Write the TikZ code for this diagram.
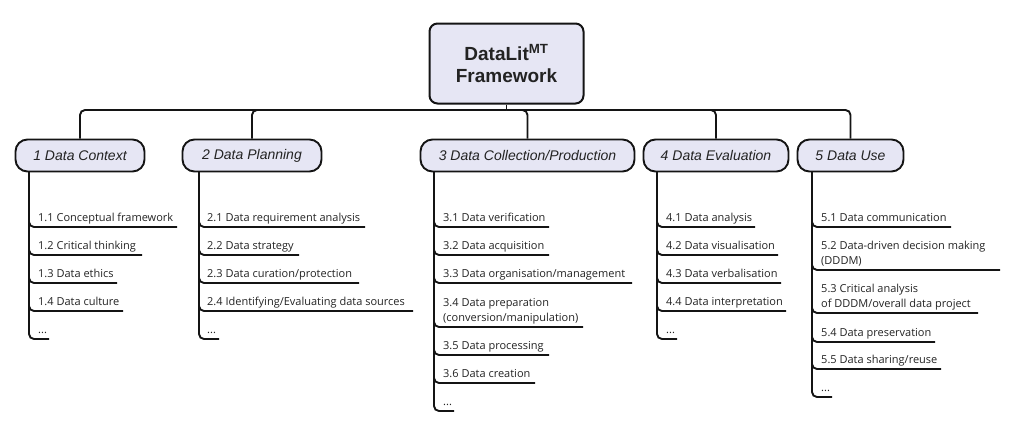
\documentclass[tikz,border=0pt]{standalone}
\usepackage{fontspec}
\setmainfont{Open Sans}
\newfontfamily\arialf{Liberation Sans}
\usetikzlibrary{calc}
\definecolor{boxfill}{RGB}{230,230,244}
\definecolor{edge}{RGB}{20,20,20}
\definecolor{txt}{RGB}{35,35,35}
\newcommand{\myitem}[7]{%
  \coordinate (#1u) at (#6,#5);
  \node[item] (#1) at (#4,#5-6) {#7};
  \draw[conn] (#2.south -| #3) |- (#1u);
}
\newcommand{\twol}[2]{\begin{tabular}[b]{@{}l@{}}#1\\#2\end{tabular}}
\begin{document}
\begin{tikzpicture}[x=1pt,y=-1pt,
  rootbox/.style={draw=edge, line width=2pt, fill=boxfill, rounded corners=8pt,
    minimum width=154pt, minimum height=80pt, align=center, inner sep=0pt,
    font=\arialf\bfseries\fontsize{19}{22}\selectfont, text=txt},
  catbox/.style={draw=edge, line width=1.9pt, fill=boxfill, rounded corners=12pt,
    minimum height=32pt, inner sep=0pt,
    font=\arialf\itshape\fontsize{14}{16}\selectfont, text=txt},
  item/.style={anchor=base west, inner sep=0pt, font=\fontsize{11}{15}\selectfont, text=txt},
  conn/.style={draw=edge, line width=1.9pt, rounded corners=5pt},
  stem/.style={draw=edge, line width=1.9pt}]
\useasboundingbox (0,0) rectangle (1023,429);
% root
\node[rootbox] (root) at (506.5,63.5) {DataLit\textsuperscript{MT}\\Framework};
% categories
\node[catbox, minimum width=129pt] (c1) at (80,155.5) {1 Data Context};
\node[catbox, minimum width=139pt] (c2) at (252,155.5) {2 Data Planning};
\node[catbox, minimum width=214pt] (c3) at (527.5,155.5) {3 Data Collection/Production};
\node[catbox, minimum width=145pt] (c4) at (716,155.5) {4 Data Evaluation};
\node[catbox, minimum width=106pt] (c5) at (850.5,155.5) {5 Data Use};
% bus
\coordinate (hub) at (506.5,110);
\draw[stem] (root.south) -- (hub);
\draw[conn] (hub) -| (c1.north);
\draw[conn] (hub) -| (c2.north);
\draw[conn] (hub) -| (c3.north);
\draw[conn] (hub) -| (c4.north);
\draw[conn] (hub) -| (c5.north);
% vertical lines of the trees
\coordinate (v1) at (29,0);
\coordinate (v2) at (199,0);
\coordinate (v3) at (434,0);
\coordinate (v4) at (657,0);
\coordinate (v5) at (812,0);
% group 1
\myitem{i1a}{c1}{v1}{38}{227}{177}{1.1 Conceptual framework}
\myitem{i1b}{c1}{v1}{38}{255}{142}{1.2 Critical thinking}
\myitem{i1c}{c1}{v1}{38}{283}{117}{1.3 Data ethics}
\myitem{i1d}{c1}{v1}{38}{311}{123}{1.4 Data culture}
\myitem{i1e}{c1}{v1}{38}{339}{49}{...}
% group 2
\myitem{i2a}{c2}{v2}{207}{227}{365}{2.1 Data requirement analysis}
\myitem{i2b}{c2}{v2}{207}{255}{299}{2.2 Data strategy}
\myitem{i2c}{c2}{v2}{207}{283}{359}{2.3 Data curation/protection}
\myitem{i2d}{c2}{v2}{207}{311}{413}{2.4 Identifying/Evaluating data sources}
\myitem{i2e}{c2}{v2}{207}{339}{219}{...}
% group 3
\myitem{i3a}{c3}{v3}{443}{227}{549}{3.1 Data verification}
\myitem{i3b}{c3}{v3}{443}{255}{549}{3.2 Data acquisition}
\myitem{i3c}{c3}{v3}{443}{283}{632}{3.3 Data organisation/management}
\myitem{i3d}{c3}{v3}{443}{327}{583}{\twol{3.4 Data preparation}{(conversion/manipulation)}}
\myitem{i3e}{c3}{v3}{443}{355}{549}{3.5 Data processing}
\myitem{i3f}{c3}{v3}{443}{383}{535}{3.6 Data creation}
\myitem{i3g}{c3}{v3}{443}{411}{454}{...}
% group 4
\myitem{i4a}{c4}{v4}{666}{227}{755}{4.1 Data analysis}
\myitem{i4b}{c4}{v4}{666}{255}{778}{4.2 Data visualisation}
\myitem{i4c}{c4}{v4}{666}{283}{781}{4.3 Data verbalisation}
\myitem{i4d}{c4}{v4}{666}{311}{786}{4.4 Data interpretation}
\myitem{i4e}{c4}{v4}{666}{339}{677}{...}
% group 5
\myitem{i5a}{c5}{v5}{821}{227}{951}{5.1 Data communication}
\myitem{i5b}{c5}{v5}{821}{270}{1000}{\twol{5.2 Data-driven decision making}{(DDDM)}}
\myitem{i5c}{c5}{v5}{821}{313}{978}{\twol{5.3 Critical analysis}{of DDDM/overall data project}}
\myitem{i5d}{c5}{v5}{821}{342}{935}{5.4 Data preservation}
\myitem{i5e}{c5}{v5}{821}{369}{941}{5.5 Data sharing/reuse}
\myitem{i5f}{c5}{v5}{821}{397}{832}{...}
\end{tikzpicture}
\end{document}
